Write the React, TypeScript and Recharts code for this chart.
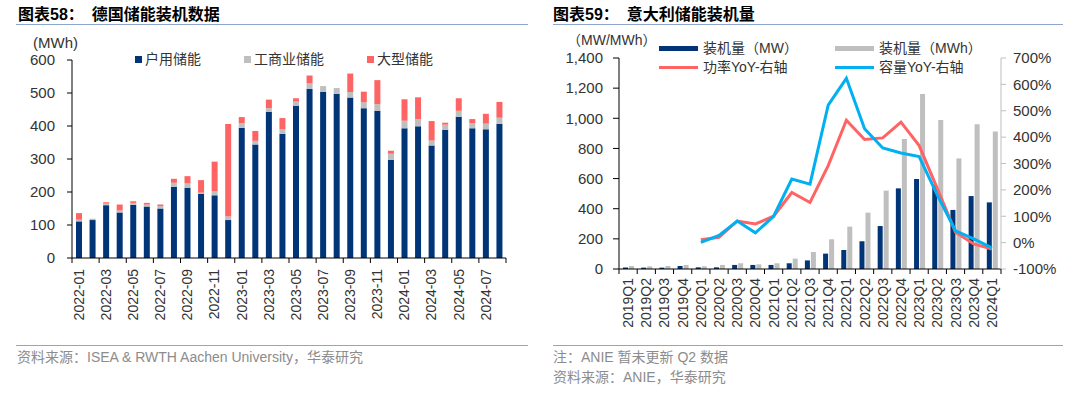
import React from "react";
import {
  Bar,
  BarChart,
  ComposedChart,
  Line,
  XAxis,
  YAxis,
} from "recharts";

// 德国储能装机数据 (MWh)
const months = [
  "2022-01", "2022-02", "2022-03", "2022-04", "2022-05", "2022-06", "2022-07", "2022-08",
  "2022-09", "2022-10", "2022-11", "2022-12", "2023-01", "2023-02", "2023-03", "2023-04",
  "2023-05", "2023-06", "2023-07", "2023-08", "2023-09", "2023-10", "2023-11", "2023-12",
  "2024-01", "2024-02", "2024-03", "2024-04", "2024-05", "2024-06", "2024-07", "2024-08",
];
const residential = [
  111, 115, 160, 138, 161, 156, 150, 216, 213, 194, 190, 115, 395, 344, 443, 376,
  461, 512, 504, 498, 486, 454, 446, 297, 393, 399, 341, 388, 428, 393, 390, 407,
];
const commercial = [
  5, 4, 5, 6, 6, 6, 7, 12, 13, 4, 12, 11, 14, 11, 11, 14,
  13, 17, 17, 17, 17, 18, 20, 19, 23, 22, 15, 16, 18, 16, 17, 18,
];
const largeScale = [
  20, 0, 4, 18, 5, 5, 5, 12, 22, 38, 90, 280, 18, 30, 26, 34,
  10, 24, 0, 0, 56, 32, 73, 9, 65, 66, 59, 6, 38, 12, 30, 48,
];
const leftTicks = [0, 100, 200, 300, 400, 500, 600];

// 意大利储能装机量
const quarters = [
  "2019Q1", "2019Q2", "2019Q3", "2019Q4", "2020Q1", "2020Q2", "2020Q3", "2020Q4",
  "2021Q1", "2021Q2", "2021Q3", "2021Q4", "2022Q1", "2022Q2", "2022Q3", "2022Q4",
  "2023Q1", "2023Q2", "2023Q3", "2023Q4", "2024Q1",
];
const powerMW = [10, 9, 9, 20, 11, 11, 27, 27, 27, 38, 57, 102, 126, 184, 285, 535, 597, 555, 392, 484, 442];
const capacityMWh = [20, 18, 20, 27, 18, 27, 38, 31, 38, 69, 113, 197, 281, 374, 520, 863, 1161, 989, 734, 960, 913];
const powerYoY = [
  null, null, null, null, 11, 20, 82, 71, 100, 190, 152, 292, 464, 391, 397, 457, 368, 205, 39, -5, -24,
];
const capacityYoY = [
  null, null, null, null, 1, 27, 82, 37, 100, 241, 222, 521, 623, 432, 359, 340, 326, 180, 45, 14, -20,
];
const mwTicks = [0, 200, 400, 600, 800, 1000, 1200, 1400];
const pctTicks = [-100, 0, 100, 200, 300, 400, 500, 600, 700];

const NAVY = "#013578";
const GREY = "#BFBFBF";
const RED = "#FF6464";
const CYAN = "#00B0F0";
const RULE = "#8FA6CC";
const SRC = "#8C8C8C";
const FONT = "'Liberation Sans', Arial, 'Noto Sans CJK SC', sans-serif";

const germanyData = months.map((m, i) => ({
  month: m,
  residential: residential[i],
  commercial: commercial[i],
  large: largeScale[i],
}));

const italyData = quarters.map((q, i) => ({
  quarter: q,
  mw: powerMW[i],
  mwh: capacityMWh[i],
  powerYoY: powerYoY[i],
  capacityYoY: capacityYoY[i],
}));

const LEFT_BW = 434 / months.length;
const RIGHT_BW = 382 / quarters.length;

function MonthTick(props: any) {
  const { x, y, payload } = props;
  const bx = x - LEFT_BW / 2;
  const last = payload.index === months.length - 2;
  return (
    <g>
      <line x1={bx} y1={y} x2={bx} y2={y + 5} stroke="#000" />
      {last ? (
        <line x1={bx + 2 * LEFT_BW} y1={y} x2={bx + 2 * LEFT_BW} y2={y + 5} stroke="#000" />
      ) : null}
      <text
        x={x}
        y={y + 11}
        transform={`rotate(-90 ${x} ${y + 11})`}
        textAnchor="end"
        dominantBaseline="central"
        fontSize={14}
        fill="#333"
      >
        {payload.value}
      </text>
    </g>
  );
}

function QuarterTick(props: any) {
  const { x, y, payload } = props;
  const bx = x - RIGHT_BW / 2;
  const last = payload.index === quarters.length - 1;
  return (
    <g>
      <line x1={bx} y1={y} x2={bx} y2={y + 5} stroke="#000" />
      {last ? (
        <line x1={bx + RIGHT_BW} y1={y} x2={bx + RIGHT_BW} y2={y + 5} stroke="#000" />
      ) : null}
      <text
        x={x}
        y={y + 9}
        transform={`rotate(-90 ${x} ${y + 9})`}
        textAnchor="end"
        dominantBaseline="central"
        fontSize={14}
        fill="#333"
      >
        {payload.value}
      </text>
    </g>
  );
}

const abs = (left: number, top: number, extra: React.CSSProperties = {}): React.CSSProperties => ({
  position: "absolute",
  left,
  top,
  whiteSpace: "nowrap",
  ...extra,
});

function Title(props: { left: number; num: string; text: string }) {
  return (
    <div style={abs(props.left, 4, { fontSize: 16, fontWeight: "bold", color: "#000", lineHeight: "22px" })}>
      图表{props.num}：<span style={{ marginLeft: 8 }}>{props.text}</span>
    </div>
  );
}

function Rule(props: { left: number; top: number; width: number }) {
  return (
    <div
      style={abs(props.left, props.top, { width: props.width, height: 1, background: RULE })}
    />
  );
}

function SquareItem(props: { left: number; color: string; label: string }) {
  return (
    <>
      <div style={abs(props.left, 56, { width: 7, height: 7, background: props.color })} />
      <div style={abs(props.left + 10, 50, { fontSize: 14, lineHeight: "18px", color: "#333", letterSpacing: 0 })}>
        {props.label}
      </div>
    </>
  );
}

function LineItem(props: { left: number; top: number; color: string; h: number; label: string }) {
  return (
    <>
      <div
        style={abs(props.left, props.top - props.h / 2, { width: 39, height: props.h, background: props.color })}
      />
      <div style={abs(props.left + 44, props.top - 9, { fontSize: 14, lineHeight: "18px", color: "#333" })}>
        {props.label}
      </div>
    </>
  );
}

export default function App() {
  return (
    <div
      style={{
        position: "absolute",
        left: 0,
        top: 0,
        width: 1080,
        height: 394,
        background: "#fff",
        overflow: "hidden",
        fontFamily: FONT,
      }}
    >
      {/* left panel */}
      <Title left={18} num="58" text="德国储能装机数据" />
      <Rule left={16} top={24} width={512} />
      <div style={abs(33, 34, { fontSize: 15, lineHeight: "18px", color: "#333" })}>(MWh)</div>
      <div style={abs(0, 0)}>
        <BarChart
          width={540}
          height={394}
          data={germanyData}
          margin={{ top: 60, right: 34, left: 0, bottom: 0 }}
          barSize={6}
        >
          <XAxis
            dataKey="month"
            height={136}
            interval={1}
            tickLine={false}
            tickSize={0}
            tickMargin={0}
            axisLine={{ stroke: "#000" }}
            tick={<MonthTick />}
          />
          <YAxis
            width={72}
            domain={[0, 600]}
            ticks={leftTicks}
            interval={0}
            axisLine={{ stroke: "#000" }}
            tickLine={{ stroke: "#000" }}
            tickSize={5}
            tickMargin={12}
            tick={{ fill: "#333", fontSize: 15 }}
          />
          <Bar dataKey="residential" stackId="1" fill={NAVY} isAnimationActive={false} />
          <Bar dataKey="commercial" stackId="1" fill={GREY} isAnimationActive={false} />
          <Bar dataKey="large" stackId="1" fill={RED} isAnimationActive={false} />
        </BarChart>
      </div>
      <SquareItem left={135} color={NAVY} label="户用储能" />
      <SquareItem left={244} color={GREY} label="工商业储能" />
      <SquareItem left={367} color={RED} label="大型储能" />
      <Rule left={16} top={345} width={512} />
      <div style={abs(17, 348, { fontSize: 14, lineHeight: "18px", color: SRC })}>
        资料来源：ISEA &amp; RWTH Aachen University，华泰研究
      </div>

      {/* right panel */}
      <Title left={553} num="59" text="意大利储能装机量" />
      <Rule left={553} top={24} width={510} />
      <div style={abs(567, 31, { fontSize: 14, lineHeight: "18px", color: "#333" })}>（MW/MWh）</div>
      <div style={abs(540, 0)}>
        <ComposedChart
          width={540}
          height={394}
          data={italyData}
          margin={{ top: 58, right: 0, left: 0, bottom: 0 }}
          barSize={5}
          barGap={1}
        >
          <XAxis
            dataKey="quarter"
            height={125}
            interval={0}
            tickLine={false}
            tickSize={0}
            tickMargin={0}
            axisLine={{ stroke: "#000" }}
            tick={<QuarterTick />}
          />
          <YAxis
            yAxisId="left"
            width={79}
            domain={[0, 1400]}
            ticks={mwTicks}
            interval={0}
            axisLine={{ stroke: "#000" }}
            tickLine={{ stroke: "#000" }}
            tickSize={6}
            tickMargin={10}
            tick={{ fill: "#333", fontSize: 15 }}
            tickFormatter={(v: number) => v.toLocaleString("en-US")}
          />
          <YAxis
            yAxisId="right"
            orientation="right"
            width={79}
            domain={[-100, 700]}
            ticks={pctTicks}
            interval={0}
            axisLine={{ stroke: GREY }}
            tickLine={{ stroke: GREY }}
            tickSize={5}
            tickMargin={7}
            tick={{ fill: "#333", fontSize: 15 }}
            tickFormatter={(v: number) => `${v}%`}
          />
          <Bar yAxisId="left" dataKey="mw" fill={NAVY} isAnimationActive={false} />
          <Bar yAxisId="left" dataKey="mwh" fill={GREY} isAnimationActive={false} />
          <Line
            yAxisId="right"
            type="linear"
            dataKey="powerYoY"
            stroke={RED}
            strokeWidth={3}
            dot={false}
            isAnimationActive={false}
          />
          <Line
            yAxisId="right"
            type="linear"
            dataKey="capacityYoY"
            stroke={CYAN}
            strokeWidth={3}
            dot={false}
            isAnimationActive={false}
          />
        </ComposedChart>
      </div>
      <LineItem left={659} top={48} color={NAVY} h={5} label="装机量（MW）" />
      <LineItem left={835} top={48} color={GREY} h={5} label="装机量（MWh）" />
      <LineItem left={659} top={67} color={RED} h={3} label="功率YoY-右轴" />
      <LineItem left={835} top={67} color={CYAN} h={3} label="容量YoY-右轴" />
      <Rule left={553} top={345} width={510} />
      <div style={abs(553, 348, { fontSize: 14, lineHeight: "18px", color: SRC })}>
        注：ANIE 暂未更新 Q2 数据
      </div>
      <div style={abs(553, 368, { fontSize: 14, lineHeight: "18px", color: SRC })}>
        资料来源：ANIE，华泰研究
      </div>
    </div>
  );
}
